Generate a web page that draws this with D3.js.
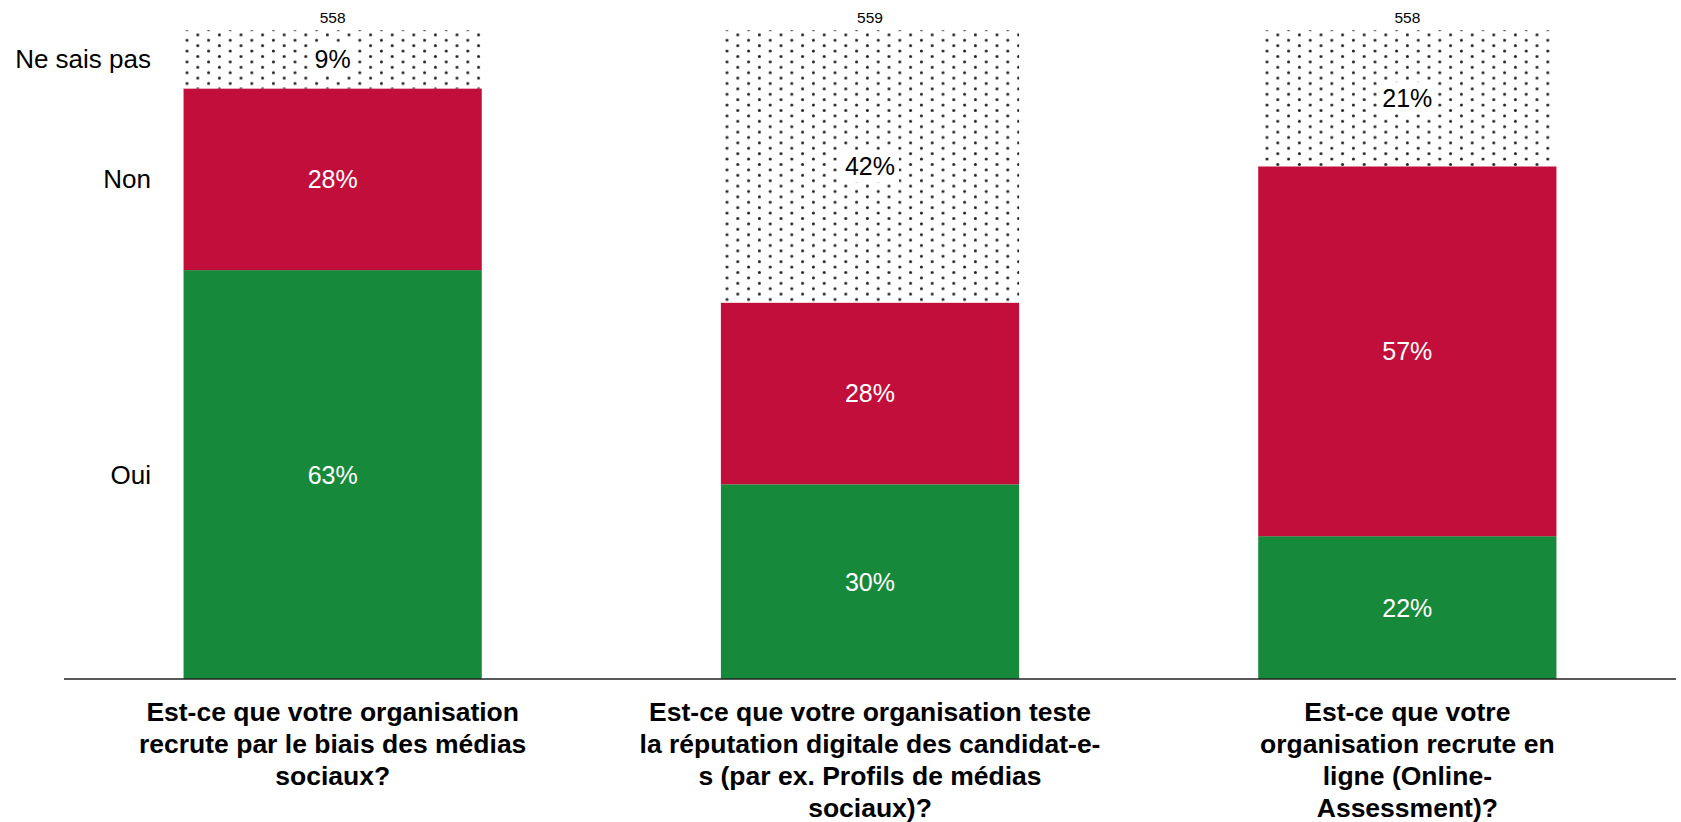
<!DOCTYPE html>
<html>
<head>
<meta charset="utf-8">
<script src="https://cdn.jsdelivr.net/npm/d3@7"></script>
<style>
  html, body { margin: 0; padding: 0; background: #fff; }
  svg { display: block; font-family: "Liberation Sans", Arial, sans-serif; }
</style>
</head>
<body>
<svg id="chart" width="1681" height="822"></svg>
<script>
// Survey questions, pre-wrapped into lines as printed under each bar
const categories = [
  ["Est-ce que votre organisation", "recrute par le biais des médias", "sociaux?"],
  ["Est-ce que votre organisation teste", "la réputation digitale des candidat-e-", "s (par ex. Profils de médias", "sociaux)?"],
  ["Est-ce que votre", "organisation recrute en", "ligne (Online-", "Assessment)?"]
];
const seriesNames = ["Oui", "Non", "Ne sais pas"];
const oui = [63, 30, 22];
const non = [28, 28, 57];
const neSaisPas = [9, 42, 21];
const sampleSizes = [558, 559, 558];

const width = 1681, height = 822;
const svg = d3.select("#chart");

const rows = categories.map((c, i) => ({
  idx: i,
  "Oui": oui[i],
  "Non": non[i],
  "Ne sais pas": neSaisPas[i]
}));

const x = d3.scaleBand()
  .domain(d3.range(categories.length))
  .range([64, 1676])
  .paddingInner(0.445)
  .paddingOuter(0.2225);

const y = d3.scaleLinear().domain([0, 100]).range([679, 30]);

const fills = {
  "Oui": "#168A3A",
  "Non": "#C10E3B",
  "Ne sais pas": "url(#dots)"
};
const labelColors = { "Oui": "#fff", "Non": "#fff", "Ne sais pas": "#000" };

// Dot hatch for the "don't know" share
const defs = svg.append("defs");
const pat = defs.append("pattern")
  .attr("id", "dots")
  .attr("patternUnits", "userSpaceOnUse")
  .attr("width", 21.6)
  .attr("height", 10.8);
pat.append("rect").attr("width", 21.6).attr("height", 10.8).attr("fill", "#fff");
pat.append("circle").attr("cx", 3.4).attr("cy", 2.4).attr("r", 1.5).attr("fill", "#1e1e1e");
pat.append("circle").attr("cx", 14.2).attr("cy", 7.8).attr("r", 1.5).attr("fill", "#1e1e1e");

const stacked = d3.stack().keys(seriesNames)(rows);

const layers = svg.append("g").selectAll("g")
  .data(stacked)
  .join("g")
  .attr("fill", d => fills[d.key]);

layers.selectAll("rect")
  .data(d => d)
  .join("rect")
  .attr("x", d => x(d.data.idx))
  .attr("width", x.bandwidth())
  .attr("y", d => y(d[1]))
  .attr("height", d => y(d[0]) - y(d[1]));

// Value labels centred in each segment
const labelG = svg.append("g");
stacked.forEach(layer => {
  layer.forEach(d => {
    const cx = x(d.data.idx) + x.bandwidth() / 2;
    const cy = y((d[0] + d[1]) / 2);
    const g = labelG.append("g");
    const t = g.append("text")
      .attr("x", cx)
      .attr("y", cy)
      .attr("text-anchor", "middle")
      .attr("dominant-baseline", "central")
      .attr("font-size", 25)
      .attr("fill", labelColors[layer.key])
      .text(d.data[layer.key] + "%");
    if (layer.key === "Ne sais pas") {
      const bb = t.node().getBBox();
      g.insert("rect", "text")
        .attr("x", bb.x - 4)
        .attr("y", bb.y - 2)
        .attr("width", bb.width + 8)
        .attr("height", bb.height + 4)
        .attr("fill", "#fff");
    }
  });
});

// Sample size above each bar
svg.append("g").selectAll("text")
  .data(sampleSizes)
  .join("text")
  .attr("x", (d, i) => x(i) + x.bandwidth() / 2)
  .attr("y", 17)
  .attr("text-anchor", "middle")
  .attr("dominant-baseline", "central")
  .attr("font-size", 15.5)
  .attr("fill", "#000")
  .text(d => d);

// Series names beside the first bar
const first = stacked.map(layer => ({ key: layer.key, mid: (layer[0][0] + layer[0][1]) / 2 }));
svg.append("g").selectAll("text")
  .data(first)
  .join("text")
  .attr("x", 151)
  .attr("y", d => y(d.mid))
  .attr("text-anchor", "end")
  .attr("dominant-baseline", "central")
  .attr("font-size", 26)
  .attr("fill", "#000")
  .text(d => d.key);

// Baseline axis with wrapped category labels
const xAxis = d3.axisBottom(x).tickSize(0).tickFormat("");
const axisG = svg.append("g")
  .attr("transform", `translate(0,${y(0)})`)
  .call(xAxis);
axisG.select(".domain")
  .attr("d", `M64,0H1676`)
  .attr("stroke", "#222")
  .attr("stroke-width", 1.6);

axisG.selectAll(".tick").each(function(i) {
  const t = d3.select(this).append("text")
    .attr("text-anchor", "middle")
    .attr("font-size", 26.5)
    .attr("font-weight", "bold")
    .attr("fill", "#000")
    .attr("y", 42);
  t.selectAll("tspan")
    .data(categories[i])
    .join("tspan")
    .attr("x", 0)
    .attr("dy", (d, k) => k === 0 ? 0 : 32)
    .text(d => d);
});
</script>
</body>
</html>
